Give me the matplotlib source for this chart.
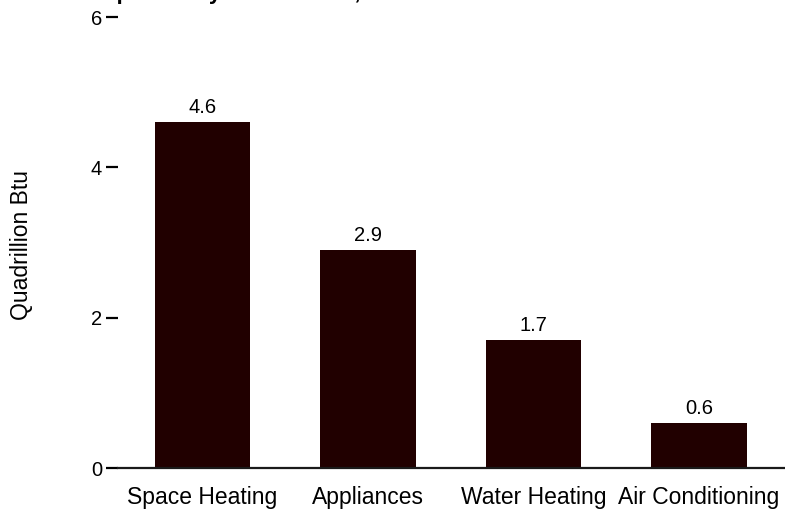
import matplotlib
matplotlib.use("Agg")
import matplotlib.pyplot as plt

categories = ["Space Heating", "Appliances", "Water Heating", "Air Conditioning"]
values = [4.6, 2.9, 1.7, 0.6]
value_labels = ["4.6", "2.9", "1.7", "0.6"]
yticks = [0, 2, 4, 6]
title = "Top Uses by Households, 2005"

plt.rcParams['font.family'] = ['Liberation Sans', 'DejaVu Sans']

W, H = 785, 509
fig = plt.figure(figsize=(W / 100, H / 100), dpi=100)
ax = fig.add_axes([118 / W, (H - 468) / H, 1 - 118 / W, (468 - 17) / H])

x = list(range(len(categories)))
ax.bar(x, values, width=0.575, color="#210000", zorder=2)
for xi, v, lab in zip(x, values, value_labels):
    ax.annotate(lab, (xi, v), xytext=(0, 3.5), textcoords="offset points",
                ha="center", va="bottom", fontsize=14.5)

ax.set_xlim(-0.51, 3.52)
ax.set_ylim(0, 6)
for s in ["top", "right", "left"]:
    ax.spines[s].set_visible(False)
ax.spines["bottom"].set_linewidth(1.6)
ax.spines["bottom"].set_color("#1a1a1a")
ax.set_yticks(yticks)
ax.set_yticklabels([str(t) for t in yticks], fontsize=14.5)
ax.tick_params(axis="y", length=8.5, width=1.6, pad=3, color="black")
ax.set_xticks(x)
ax.set_xticklabels(categories, fontsize=16.5)
ax.tick_params(axis="x", length=0, pad=13)

fig.text(22 / W, 1 - 245.5 / H, "Quadrillion Btu", rotation=90,
         ha="center", va="center", fontsize=16.5)

fig.text(91 / W, 1 + 0.5 / H, title, ha="left", va="baseline",
         fontsize=16, fontweight="bold")

fig.savefig("out.png", dpi=100)
